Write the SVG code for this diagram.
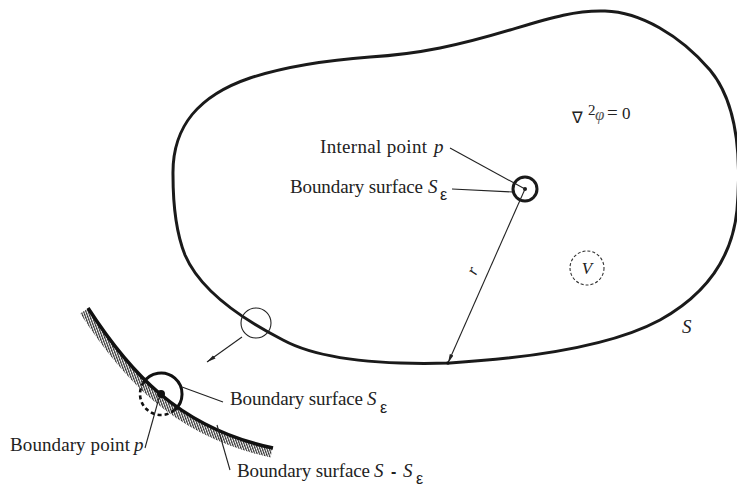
<svg xmlns="http://www.w3.org/2000/svg" width="737" height="486" viewBox="0 0 737 486">
<style>
.t{font-family:"Liberation Serif","DejaVu Serif",serif;font-size:19px;fill:#222}
.i{font-family:"Liberation Serif","DejaVu Serif",serif;font-style:italic;font-size:19px;fill:#222}
.e{font-family:"Liberation Sans","DejaVu Sans",sans-serif;font-size:16px;fill:#222}
.thin{fill:none;stroke:#222;stroke-width:1.1}
.thick{fill:none;stroke:#1a1a1a;stroke-width:3}
</style>
<defs>
<pattern id="hatch" patternUnits="userSpaceOnUse" width="2.2" height="10" patternTransform="rotate(-20)">
<rect width="2.2" height="10" fill="#fff"/>
<line x1="0.6" y1="0" x2="0.6" y2="10" stroke="#222" stroke-width="1.1"/>
</pattern>
<marker id="ah" markerWidth="10" markerHeight="6" refX="9" refY="3" orient="auto" markerUnits="userSpaceOnUse">
<path d="M0,1 L9,3 L0,5 Z" fill="#222"/>
</marker>
</defs>

<g id="domain">
<path class="thick" d="M173,175 C172,125 200,95 250,78 C290,65 330,60 370,57 C420,54 460,45 510,30 C550,18 575,10 605,11 C640,12 680,35 710,70 C735,100 742,150 737,210 C732,260 705,295 660,320 C610,347 530,358 450,363 C380,365 320,360 283,340 C240,318 200,290 185,255 C175,230 173,200 173,175 Z"/>
<text class="i" x="682" y="333">S</text>
</g>

<g id="laplace">
<text x="572" y="123" style="font-family:'DejaVu Sans',sans-serif;font-size:16px;fill:#222">∇</text>
<text x="588" y="115" class="t" style="font-size:15px">2</text>
<text x="595" y="120" class="i" style="font-size:17px;fill:#555">φ</text>
<text x="607" y="119" class="t" style="font-size:19px">=</text>
<text x="622" y="119" class="t" style="font-size:17px">0</text>
</g>

<g id="volume">
<circle cx="587" cy="268" r="17" fill="none" stroke="#333" stroke-width="1.1" stroke-dasharray="3,2"/>
<text class="i" x="587" y="274" text-anchor="middle" style="font-size:17px">V</text>
</g>

<g id="internal-point">
<circle cx="525" cy="189" r="12" class="thick"/>
<circle cx="525" cy="189" r="2" fill="#1a1a1a"/>
</g>

<g id="label-internal">
<text class="t" x="320" y="153" textLength="107" lengthAdjust="spacing">Internal point</text>
<text class="i" x="434" y="153">p</text>
</g>

<g id="label-surface-top">
<text class="t" x="290" y="193" textLength="133" lengthAdjust="spacing">Boundary surface</text>
<text class="i" x="428" y="193">S</text>
<text class="e" x="440" y="200">ε</text>
</g>

<g id="small-circle">
<circle cx="256" cy="323" r="15" class="thin"/>
</g>

<g id="boundary-detail">
<path d="M84,311 C124.5,373.5 174.5,432 271.5,453" fill="none" stroke="url(#hatch)" stroke-width="9"/>
<path d="M88,308 C128,370 178,428 273,448" fill="none" stroke="#111" stroke-width="3.5"/>
<path d="M143.2,382.9 A21,21 0 1 1 174.5,410.1" fill="none" stroke="#111" stroke-width="3"/>
<path d="M174.5,410.1 A21,21 0 0 1 143.2,382.9" fill="none" stroke="#111" stroke-width="2.6" stroke-dasharray="4,3"/>
<circle cx="161" cy="394" r="4" fill="#111"/>
</g>

<g id="label-surface-eps">
<text class="t" x="230" y="405" textLength="133" lengthAdjust="spacing">Boundary surface</text>
<text class="i" x="367" y="405">S</text>
<text class="e" x="380" y="413">ε</text>
</g>

<g id="label-boundary-point">
<text class="t" x="10" y="451" textLength="120" lengthAdjust="spacing">Boundary point</text>
<text class="i" x="134" y="451">p</text>
</g>

<g id="label-surface-rest">
<text class="t" x="237" y="477" textLength="133" lengthAdjust="spacing">Boundary surface</text>
<text class="i" x="374" y="477">S</text>
<text x="391" y="477" style="font-family:'Liberation Sans',sans-serif;font-size:16px;font-weight:bold;fill:#222">-</text>
<text class="i" x="403" y="477">S</text>
<text class="e" x="416" y="484">ε</text>
</g>

<g id="connectors">
<line class="thin" x1="450" y1="148" x2="525" y2="189"/>
<line class="thin" x1="452" y1="189" x2="513" y2="192"/>
<line class="thin" x1="525" y1="189" x2="448" y2="363" marker-end="url(#ah)"/>
<circle cx="448" cy="363" r="1.8" fill="#111"/>
<line class="thin" x1="242" y1="337" x2="207" y2="362" marker-end="url(#ah)"/>
<line class="thin" x1="223" y1="402" x2="182" y2="387"/>
<line class="thin" x1="145" y1="448" x2="159" y2="398"/>
<line class="thin" x1="230" y1="470" x2="217" y2="425"/>
<text class="i" x="0" y="0" transform="translate(476,276) rotate(-66)" style="font-size:17px">r</text>
</g>
</svg>
